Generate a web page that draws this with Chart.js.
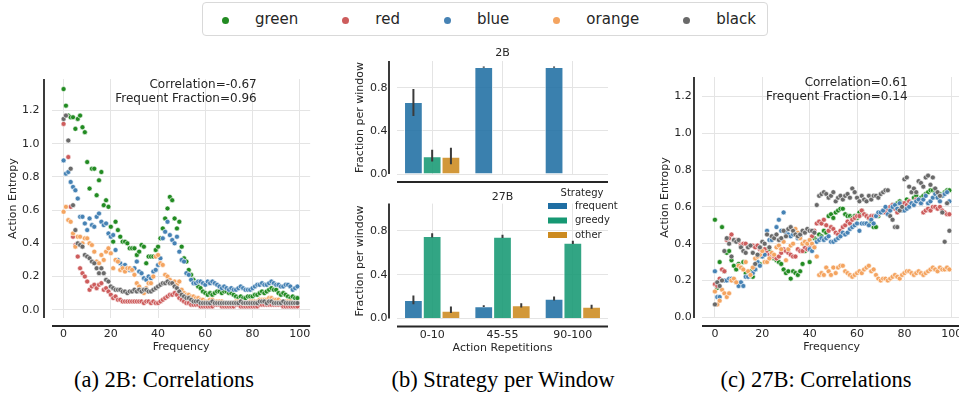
<!DOCTYPE html>
<html>
<head>
<meta charset="utf-8">
<script src="https://cdn.jsdelivr.net/npm/chart.js@4.4.1/dist/chart.umd.min.js"></script>
<style>
  html, body { margin: 0; padding: 0; background: #fff; }
  body { width: 959px; height: 393px; position: relative; overflow: hidden;
         font-family: 'DejaVu Sans', sans-serif; color: #262626; }
  canvas { position: absolute; }
  #legend { position: absolute; left: 202px; top: 2px; width: 566px; height: 34px;
            box-sizing: border-box; border: 1px solid #d9d9d9; border-radius: 4px;
            display: flex; align-items: center; padding-left: 19px; }
  #legend .dot { flex: none; width: 7px; height: 7px; border-radius: 50%; margin-right: 26px; margin-top: 3px; }
  #legend .name { flex: none; font-size: 15px; margin-right: 44px; line-height: 20px; }
  .caption { position: absolute; top: 367px; width: 320px; text-align: center;
             font-family: 'Liberation Serif', 'Times New Roman', serif; font-size: 22.5px;
             line-height: 26px; color: #000; white-space: nowrap; }
</style>
</head>
<body>
<div id="legend"></div>
<canvas id="panelA" width="320" height="300" style="left:0px;top:60px"></canvas>
<canvas id="panelB2" width="290" height="150" style="left:330px;top:40px"></canvas>
<canvas id="panelB27" width="290" height="175" style="left:330px;top:185px"></canvas>
<canvas id="panelC" width="332" height="300" style="left:640px;top:60px"></canvas>
<div class="caption" style="left:4px">(a) 2B: Correlations</div>
<div class="caption" style="left:343px">(b) Strategy per Window</div>
<div class="caption" style="left:656px">(c) 27B: Correlations</div>
<script>
// ---- series shared by both scatter panels ----
const seriesNames = ['green', 'red', 'blue', 'orange', 'black'];
const seriesColors = ['#228b22', '#cd5c5c', '#4682b4', '#f4a460', '#696969'];

const frequency = [0,1,2,3,4,5,6,7,8,9,10,11,12,13,14,15,16,17,18,19,20,21,22,23,24,25,26,27,28,29,
  30,31,32,33,34,35,36,37,38,39,40,41,42,43,44,45,46,47,48,49,50,51,52,53,54,55,56,57,58,59,
  60,61,62,63,64,65,66,67,68,69,70,71,72,73,74,75,76,77,78,79,80,81,82,83,84,85,86,87,88,89,
  90,91,92,93,94,95,96,97,98,99];
const frequencyTicks = [0, 20, 40, 60, 80, 100];
const entropyTicks = [0.0, 0.2, 0.4, 0.6, 0.8, 1.0, 1.2];

// ---- 2B: action entropy per frequency ----
const entropy2B_green = [1.33,1.23,1.17,1.16,1.16,1.09,1.15,1.17,1.10,1.07,
  0.89,0.73,0.85,0.85,0.69,0.78,0.83,0.63,0.66,0.62, 0.50,0.41,0.53,0.48,0.44,0.41,0.41,0.40,0.37,0.37,
  0.37,0.33,0.35,0.39,0.38,0.28,0.32,0.32,0.32,0.36, 0.38,0.43,0.49,0.55,0.61,0.68,0.66,0.55,0.49,0.53,
  0.38,0.31,0.29,0.24,0.21,0.18,0.16,0.14,0.13,0.11, 0.10,0.09,0.10,0.09,0.10,0.11,0.11,0.10,0.11,0.11,
  0.10,0.10,0.09,0.08,0.07,0.08,0.07,0.07,0.08,0.08, 0.08,0.09,0.09,0.10,0.11,0.10,0.11,0.12,0.13,0.12,
  0.12,0.10,0.09,0.10,0.09,0.08,0.07,0.08,0.07,0.07];
const entropy2B_red = [1.12,1.17,0.92,0.62,0.44,0.39,0.32,0.25,0.22,0.20,
  0.17,0.12,0.14,0.15,0.13,0.15,0.16,0.12,0.13,0.11, 0.09,0.07,0.08,0.06,0.06,0.05,0.05,0.05,0.05,0.05,
  0.05,0.05,0.05,0.05,0.04,0.05,0.05,0.04,0.05,0.04, 0.04,0.05,0.06,0.07,0.08,0.09,0.09,0.10,0.09,0.07,
  0.06,0.05,0.04,0.04,0.03,0.03,0.03,0.03,0.02,0.02, 0.02,0.02,0.02,0.02,0.03,0.03,0.03,0.02,0.02,0.02,
  0.02,0.02,0.02,0.03,0.03,0.02,0.02,0.02,0.02,0.02, 0.02,0.02,0.02,0.03,0.03,0.03,0.03,0.03,0.03,0.03,
  0.03,0.03,0.03,0.02,0.02,0.02,0.02,0.02,0.02,0.02];
const entropy2B_blue = [0.90,0.82,0.83,0.77,0.74,0.72,0.67,0.56,0.56,0.52,
  0.48,0.55,0.51,0.50,0.56,0.58,0.53,0.51,0.52,0.46, 0.44,0.45,0.36,0.30,0.28,0.26,0.27,0.25,0.24,0.24,
  0.25,0.29,0.23,0.22,0.19,0.18,0.20,0.19,0.23,0.24, 0.27,0.31,0.43,0.47,0.53,0.45,0.42,0.40,0.44,0.35,
  0.30,0.29,0.22,0.21,0.18,0.16,0.16,0.17,0.17,0.16, 0.15,0.17,0.16,0.17,0.16,0.15,0.14,0.13,0.14,0.13,
  0.12,0.13,0.12,0.12,0.13,0.14,0.13,0.12,0.12,0.12, 0.13,0.14,0.15,0.15,0.16,0.15,0.15,0.16,0.17,0.16,
  0.15,0.15,0.14,0.14,0.15,0.15,0.14,0.12,0.13,0.14];
const entropy2B_orange = [0.59,0.62,0.54,0.53,0.46,0.38,0.44,0.44,0.40,0.43,
  0.43,0.40,0.39,0.35,0.29,0.28,0.33,0.30,0.35,0.37, 0.34,0.25,0.30,0.29,0.24,0.25,0.23,0.25,0.25,0.24,
  0.21,0.16,0.14,0.12,0.10,0.13,0.16,0.16,0.20,0.32, 0.33,0.28,0.27,0.21,0.20,0.18,0.16,0.17,0.15,0.17,
  0.12,0.10,0.09,0.09,0.08,0.08,0.07,0.07,0.06,0.06, 0.05,0.05,0.06,0.06,0.05,0.05,0.05,0.05,0.04,0.04,
  0.04,0.04,0.04,0.05,0.05,0.05,0.04,0.04,0.04,0.05, 0.05,0.05,0.05,0.06,0.06,0.06,0.06,0.07,0.07,0.06,
  0.06,0.06,0.05,0.05,0.05,0.05,0.05,0.04,0.04,0.04];
const entropy2B_black = [1.15,1.17,1.02,0.85,0.63,0.48,0.40,0.39,0.38,0.33,
  0.32,0.31,0.29,0.28,0.25,0.22,0.25,0.22,0.18,0.17, 0.14,0.13,0.12,0.12,0.12,0.11,0.11,0.10,0.11,0.11,
  0.12,0.11,0.12,0.11,0.12,0.12,0.11,0.11,0.12,0.13, 0.14,0.15,0.16,0.16,0.17,0.16,0.16,0.14,0.13,0.11,
  0.09,0.08,0.07,0.07,0.06,0.05,0.05,0.05,0.04,0.04, 0.04,0.04,0.04,0.05,0.04,0.04,0.04,0.04,0.04,0.04,
  0.04,0.04,0.04,0.04,0.04,0.05,0.04,0.04,0.04,0.04, 0.04,0.04,0.04,0.05,0.05,0.05,0.04,0.05,0.05,0.04,
  0.04,0.04,0.04,0.05,0.04,0.04,0.04,0.04,0.04,0.04];

// ---- 27B: action entropy per frequency ----
const entropy27B_green = [0.53,0.16,0.30,0.49,0.25,0.35,0.36,0.31,0.28,0.26,
  0.29,0.27,0.30,0.24,0.22,0.25,0.22,0.26,0.30,0.29, 0.33,0.35,0.37,0.36,0.34,0.32,0.31,0.30,0.29,0.26,
  0.24,0.25,0.21,0.25,0.24,0.23,0.25,0.29,0.36,0.37, 0.30,0.38,0.43,0.42,0.45,0.44,0.47,0.46,0.55,0.56,
  0.54,0.57,0.58,0.59,0.59,0.56,0.55,0.55,0.54,0.55, 0.54,0.57,0.58,0.56,0.55,0.54,0.52,0.49,0.49,0.55,
  0.57,0.58,0.57,0.59,0.60,0.61,0.60,0.62,0.63,0.62, 0.61,0.64,0.63,0.62,0.65,0.66,0.64,0.65,0.66,0.67,
  0.68,0.69,0.69,0.68,0.66,0.67,0.66,0.68,0.69,0.69];
const entropy27B_red = [0.18,0.17,0.21,0.26,0.25,0.42,0.43,0.45,0.42,0.42,
  0.41,0.39,0.40,0.40,0.38,0.39,0.39,0.38,0.39,0.37, 0.36,0.37,0.35,0.34,0.33,0.33,0.32,0.33,0.35,0.37,
  0.36,0.35,0.34,0.33,0.33,0.37,0.36,0.36,0.38,0.37, 0.39,0.44,0.47,0.51,0.52,0.51,0.53,0.50,0.47,0.49,
  0.48,0.46,0.45,0.47,0.49,0.50,0.52,0.51,0.53,0.54, 0.55,0.55,0.58,0.56,0.55,0.54,0.55,0.55,0.55,0.56,
  0.57,0.58,0.57,0.59,0.60,0.61,0.59,0.57,0.59,0.61, 0.62,0.61,0.63,0.62,0.61,0.64,0.63,0.62,0.57,0.58,
  0.59,0.58,0.60,0.60,0.59,0.60,0.58,0.57,0.56,0.56];
const entropy27B_blue = [0.25,0.11,0.11,0.20,0.20,0.20,0.21,0.21,0.20,0.19,
  0.17,0.19,0.17,0.22,0.22,0.23,0.24,0.26,0.30,0.28, 0.33,0.34,0.47,0.42,0.42,0.44,0.49,0.53,0.47,0.57,
  0.46,0.45,0.44,0.45,0.46,0.43,0.44,0.40,0.41,0.40, 0.37,0.36,0.38,0.41,0.42,0.43,0.42,0.43,0.44,0.41,
  0.41,0.42,0.43,0.44,0.46,0.45,0.46,0.48,0.49,0.50, 0.51,0.47,0.51,0.51,0.51,0.50,0.53,0.51,0.55,0.57,
  0.57,0.58,0.60,0.56,0.58,0.60,0.61,0.59,0.62,0.58, 0.58,0.59,0.60,0.62,0.61,0.63,0.64,0.62,0.64,0.66,
  0.62,0.63,0.65,0.67,0.65,0.63,0.66,0.67,0.68,0.63];
const entropy27B_orange = [0.14,0.07,0.09,0.15,0.13,0.11,0.13,0.20,0.21,0.19,
  0.28,0.27,0.26,0.30,0.25,0.23,0.27,0.32,0.33,0.34, 0.36,0.30,0.30,0.32,0.35,0.34,0.38,0.39,0.37,0.41,
  0.31,0.37,0.39,0.40,0.48,0.46,0.43,0.40,0.41,0.40, 0.42,0.40,0.38,0.33,0.23,0.24,0.23,0.27,0.25,0.23,
  0.27,0.24,0.27,0.28,0.28,0.25,0.24,0.23,0.22,0.23, 0.24,0.25,0.24,0.26,0.27,0.28,0.25,0.26,0.23,0.21,
  0.20,0.21,0.21,0.20,0.21,0.22,0.23,0.22,0.21,0.23, 0.24,0.25,0.25,0.24,0.23,0.24,0.25,0.24,0.23,0.24,
  0.25,0.26,0.27,0.26,0.25,0.27,0.26,0.26,0.27,0.26];
const entropy27B_black = [0.07,0.19,0.17,0.20,0.36,0.43,0.40,0.33,0.42,0.41,
  0.42,0.38,0.36,0.35,0.38,0.39,0.35,0.29,0.34,0.38, 0.41,0.40,0.45,0.38,0.44,0.43,0.45,0.42,0.43,0.47,
  0.44,0.48,0.49,0.47,0.45,0.44,0.45,0.47,0.46,0.48, 0.47,0.47,0.46,0.61,0.66,0.67,0.68,0.67,0.65,0.66,
  0.68,0.63,0.65,0.66,0.64,0.66,0.67,0.65,0.70,0.68, 0.65,0.63,0.66,0.64,0.63,0.66,0.64,0.66,0.66,0.65,
  0.67,0.68,0.69,0.69,0.55,0.53,0.49,0.49,0.58,0.60, 0.75,0.76,0.71,0.68,0.70,0.68,0.74,0.73,0.71,0.76,
  0.77,0.72,0.76,0.70,0.68,0.66,0.57,0.41,0.62,0.47];

// ---- strategy fraction per window (mean and confidence interval) ----
const windowLabels = ['0-10', '45-55', '90-100'];
const strategyNames = ['frequent', 'greedy', 'other'];
const strategyColors = ['#1f6ea3', '#169873', '#cc8a1f'];
const fractionTicks = [0.0, 0.4, 0.8];

const twoB_frequent = [0.67, 0.995, 0.995];
const twoB_greedy = [0.165, 0, 0];
const twoB_other = [0.16, 0, 0];
const twoB_frequentCI = [[0.54, 0.79], [0.988, 1.0], [0.988, 1.0]];
const twoB_greedyCI = [[0.115, 0.225], null, null];
const twoB_otherCI = [[0.09, 0.245], null, null];

const twentySevenB_frequent = [0.17, 0.113, 0.181];
const twentySevenB_greedy = [0.755, 0.748, 0.693];
const twentySevenB_other = [0.07, 0.12, 0.107];
const twentySevenB_frequentCI = [[0.13, 0.21], [0.105, 0.12], [0.165, 0.20]];
const twentySevenB_greedyCI = [[0.74, 0.78], [0.735, 0.765], [0.68, 0.71]];
const twentySevenB_otherCI = [[0.05, 0.11], [0.10, 0.14], [0.09, 0.125]];

// ---- page legend ----
const legendEl = document.getElementById('legend');
seriesNames.forEach((name, k) => {
  const dot = document.createElement('span');
  dot.className = 'dot';
  dot.style.background = seriesColors[k];
  const label = document.createElement('span');
  label.className = 'name';
  label.textContent = name;
  legendEl.appendChild(dot);
  legendEl.appendChild(label);
});

// ---- shared drawing helpers ----
const INK = '#262626';
const GRID = '#e4e4e4';
Chart.defaults.font.family = "'DejaVu Sans', sans-serif";
Chart.defaults.font.size = 11;
Chart.defaults.color = INK;

// seaborn-like offset spines: left and bottom axis lines pushed away from the plot
const offsetSpines = {
  id: 'offsetSpines',
  afterDraw(chart, args, opts) {
    const { ctx, chartArea: a } = chart;
    const gap = opts.gap || 8;
    ctx.save();
    ctx.strokeStyle = INK;
    ctx.lineWidth = 1.8;
    ctx.beginPath();
    ctx.moveTo(a.left - gap, a.top);
    ctx.lineTo(a.left - gap, a.bottom);
    ctx.moveTo(a.left, a.bottom + gap);
    ctx.lineTo(a.right, a.bottom + gap);
    ctx.stroke();
    ctx.restore();
  }
};

// right-aligned text block in axes-fraction coordinates
const cornerNote = {
  id: 'cornerNote',
  afterDraw(chart, args, opts) {
    if (!opts.lines) return;
    const { ctx, chartArea: a } = chart;
    const x = a.left + opts.fx * (a.right - a.left);
    const y = a.bottom - opts.fy * (a.bottom - a.top);
    ctx.save();
    ctx.font = "12px 'DejaVu Sans', sans-serif";
    ctx.fillStyle = INK;
    ctx.textAlign = 'right';
    ctx.textBaseline = 'middle';
    opts.lines.forEach((t, i) => ctx.fillText(t, x, y + i * opts.lineGap));
    ctx.restore();
  }
};

// panel heading centred over the plot area
const panelTitle = {
  id: 'panelTitle',
  afterDraw(chart, args, opts) {
    if (!opts.text) return;
    const { ctx, chartArea: a } = chart;
    ctx.save();
    ctx.font = "11px 'DejaVu Sans', sans-serif";
    ctx.fillStyle = INK;
    ctx.textAlign = 'center';
    ctx.textBaseline = 'middle';
    ctx.fillText(opts.text, (a.left + a.right) / 2, a.top - opts.lift);
    ctx.restore();
  }
};

// vertical confidence-interval whiskers on bars
const ciBars = {
  id: 'ciBars',
  afterDatasetsDraw(chart, args, opts) {
    if (!opts.intervals) return;
    const { ctx } = chart;
    const ys = chart.scales.y;
    ctx.save();
    ctx.strokeStyle = '#3b3b3b';
    ctx.lineWidth = 2;
    ctx.beginPath();
    opts.intervals.forEach((list, di) => {
      const meta = chart.getDatasetMeta(di);
      list.forEach((iv, j) => {
        if (!iv) return;
        const el = meta.data[j];
        ctx.moveTo(el.x, ys.getPixelForValue(iv[0]));
        ctx.lineTo(el.x, ys.getPixelForValue(iv[1]));
      });
    });
    ctx.stroke();
    ctx.restore();
  }
};

// "Strategy" key drawn inside the lower bar panel
const strategyKey = {
  id: 'strategyKey',
  afterDraw(chart, args, opts) {
    if (!opts.show) return;
    const { ctx, chartArea: a } = chart;
    ctx.save();
    ctx.font = "10px 'DejaVu Sans', sans-serif";
    ctx.fillStyle = INK;
    ctx.textBaseline = 'middle';
    ctx.textAlign = 'center';
    ctx.fillText('Strategy', a.right - 26, a.top - 10.6);
    ctx.textAlign = 'left';
    strategyNames.forEach((name, k) => {
      const y = a.top + 2.4 + k * 14.5;
      ctx.fillStyle = strategyColors[k];
      ctx.fillRect(a.right - 60, y - 3, 19, 6);
      ctx.fillStyle = INK;
      ctx.fillText(name, a.right - 33, y);
    });
    ctx.restore();
  }
};

Chart.register(offsetSpines, cornerNote, panelTitle, ciBars, strategyKey);

// ---- scatter panels ----
function scatterChart(canvasId, series, opt) {
  const datasets = series.map((vals, k) => ({
    label: seriesNames[k],
    data: vals.map((v, i) => ({ x: frequency[i], y: v })),
    backgroundColor: seriesColors[k],
    borderColor: '#ffffff',
    borderWidth: 0.6,
    pointRadius: 2.5,
    order: seriesNames.length - k
  }));
  return new Chart(document.getElementById(canvasId), {
    type: 'scatter',
    data: { datasets },
    options: {
      responsive: false,
      animation: false,
      events: [],
      layout: { padding: { top: opt.padTop, right: opt.padRight, left: 0, bottom: 0 } },
      plugins: {
        legend: { display: false },
        tooltip: { enabled: false },
        offsetSpines: { gap: 8 },
        cornerNote: { lines: opt.note, fx: 0.793, fy: 0.977, lineGap: 14.5 }
      },
      scales: {
        x: {
          type: 'linear', min: opt.xMin, max: opt.xMax,
          afterBuildTicks: s => { s.ticks = frequencyTicks.map(v => ({ value: v })); },
          afterFit: s => { s.height = 42; },
          ticks: { padding: 9.4, maxRotation: 0, callback: v => String(v) },
          grid: { color: GRID, drawTicks: false },
          border: { display: false },
          title: { display: true, text: 'Frequency', padding: { top: 0, bottom: 6.1 } }
        },
        y: {
          type: 'linear', min: opt.yMin, max: opt.yMax,
          afterBuildTicks: s => { s.ticks = entropyTicks.map(v => ({ value: v })); },
          afterFit: s => { s.width = opt.yWidth; },
          ticks: { padding: opt.yTickPad, callback: v => Number(v).toFixed(1) },
          grid: { color: GRID, drawTicks: false },
          border: { display: false },
          title: { display: true, text: 'Action Entropy', padding: { top: opt.yTitlePad, bottom: 0 } }
        }
      }
    }
  });
}

scatterChart('panelA',
  [entropy2B_green, entropy2B_red, entropy2B_blue, entropy2B_orange, entropy2B_black],
  { padTop: 13, padRight: 8, xMin: -4.9, xMax: 104.4, yMin: -0.05, yMax: 1.39,
    yWidth: 52, yTickPad: 12.5, yTitlePad: 6.4,
    note: ['Correlation=-0.67', 'Frequent Fraction=0.96'] });

scatterChart('panelC',
  [entropy27B_green, entropy27B_red, entropy27B_blue, entropy27B_orange, entropy27B_black],
  { padTop: 17, padRight: 9, xMin: -5.45, xMax: 104, yMin: -0.004, yMax: 1.306,
    yWidth: 62, yTickPad: 10.3, yTitlePad: 18.4,
    note: ['Correlation=0.61', 'Frequent Fraction=0.14'] });

// ---- strategy bar panels ----
function barChart(canvasId, means, intervals, opt) {
  const datasets = means.map((vals, k) => ({
    label: strategyNames[k],
    data: vals,
    backgroundColor: Chart.helpers.color(strategyColors[k]).alpha(0.88).rgbString(),
    borderColor: 'rgba(255,255,255,0.85)',
    borderWidth: 1,
    borderSkipped: 'bottom',
    barPercentage: 1.0,
    categoryPercentage: 0.8
  }));
  return new Chart(document.getElementById(canvasId), {
    type: 'bar',
    data: { labels: windowLabels, datasets },
    options: {
      responsive: false,
      animation: false,
      events: [],
      layout: { padding: { top: opt.padTop, right: 12, left: 0, bottom: 0 } },
      plugins: {
        legend: { display: false },
        tooltip: { enabled: false },
        panelTitle: { text: opt.title, lift: opt.titleLift },
        offsetSpines: { gap: 8 },
        ciBars: { intervals },
        strategyKey: { show: opt.key }
      },
      scales: {
        x: {
          type: 'category',
          afterFit: s => { s.height = opt.xHeight; },
          ticks: { display: opt.xLabels, padding: 9.9, maxRotation: 0 },
          grid: { color: GRID, drawTicks: false, offset: false },
          border: { display: false },
          title: { display: opt.xLabels, text: 'Action Repetitions', padding: { top: 0, bottom: 5.1 } }
        },
        y: {
          type: 'linear', min: 0, max: 1.05,
          afterBuildTicks: s => { s.ticks = fractionTicks.map(v => ({ value: v })); },
          afterFit: s => { s.width = 67; },
          ticks: { padding: 9.4, callback: v => Number(v).toFixed(1) },
          grid: { color: GRID, drawTicks: false },
          border: { display: false },
          title: { display: true, text: 'Fraction per window', padding: { top: 23.4, bottom: 0 } }
        }
      }
    }
  });
}

barChart('panelB2',
  [twoB_frequent, twoB_greedy, twoB_other],
  [twoB_frequentCI, twoB_greedyCI, twoB_otherCI],
  { title: '2B', titleLift: 8, padTop: 21, xHeight: 14, xLabels: false, key: false });

barChart('panelB27',
  [twentySevenB_frequent, twentySevenB_greedy, twentySevenB_other],
  [twentySevenB_frequentCI, twentySevenB_greedyCI, twentySevenB_otherCI],
  { title: '27B', titleLift: 6.6, padTop: 18.6, xHeight: 41.5, xLabels: true, key: true });
</script>
</body>
</html>
